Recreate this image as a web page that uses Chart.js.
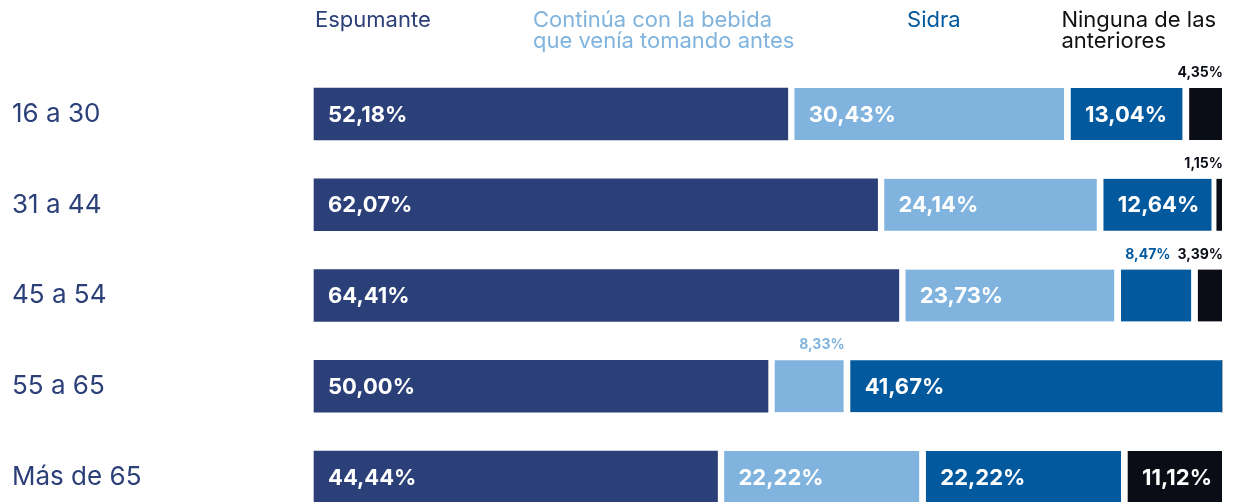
<!DOCTYPE html>
<html>
<head>
<meta charset="utf-8">
<script src="https://cdn.jsdelivr.net/npm/chart.js@4.4.1/dist/chart.umd.min.js"></script>
<style>
  html, body { margin: 0; padding: 0; background: #fff; }
  #wrap { width: 1233px; height: 502px; position: relative; }
</style>
</head>
<body>
<div id="wrap"><canvas id="chart"></canvas></div>
<script>
const categories = ["16 a 30", "31 a 44", "45 a 54", "55 a 65", "Más de 65"];
const seriesNames = [
  ["Espumante"],
  ["Continúa con la bebida", "que venía tomando antes"],
  ["Sidra"],
  ["Ninguna de las", "anteriores"]
];
const espumante = [52.18, 62.07, 64.41, 50.0, 44.44];
const continua = [30.43, 24.14, 23.73, 8.33, 22.22];
const sidra = [13.04, 12.64, 8.47, 41.67, 22.22];
const ninguna = [4.35, 1.15, 3.39, 0, 11.12];

const colors = ["#2b3f78", "#80b4de", "#03599d", "#0a0d16"];
const headerColors = ["#2b3f78", "#80b4de", "#03599d", "#111111"];
const FONT = "Inter, 'Noto Sans', sans-serif";

function fmt(v) {
  return v.toFixed(2).replace(".", ",") + "%";
}

// column headers above the bars
const headerPlugin = {
  id: "headers",
  afterDraw(chart) {
    const ctx = chart.ctx;
    const left = chart.chartArea.left;
    const w = chart.chartArea.right - left;
    const offsets = [0, 0.24, 0.652, 0.822];
    ctx.save();
    ctx.font = "22px " + FONT;
    ctx.textBaseline = "alphabetic";
    ctx.textAlign = "left";
    seriesNames.forEach((lines, i) => {
      ctx.fillStyle = headerColors[i];
      lines.forEach((line, j) => {
        ctx.fillText(line, left + 1 + offsets[i] * w, 27 + j * 21);
      });
    });
    ctx.restore();
  }
};

// percentages inside the bars, small ones above
const valuePlugin = {
  id: "values",
  afterDatasetsDraw(chart) {
    const ctx = chart.ctx;
    ctx.save();
    categories.forEach((cat, idx) => {
      let limit = Infinity;
      for (let d = chart.data.datasets.length - 1; d >= 0; d--) {
        const ds = chart.data.datasets[d];
        const v = ds.data[idx];
        if (!v) continue;
        const bar = chart.getDatasetMeta(d).data[idx];
        const p = bar.getProps(["x", "y", "base", "height"], true);
        const gap = d === 0 ? 0 : 7;
        if (v >= 10) {
          ctx.font = "bold 22px " + FONT;
          ctx.fillStyle = "#ffffff";
          ctx.textAlign = "left";
          ctx.textBaseline = "middle";
          ctx.fillText(fmt(v), p.base + gap + 14, p.y + 1);
        } else {
          ctx.font = "bold 14px " + FONT;
          ctx.fillStyle = colors[d];
          ctx.textAlign = "right";
          ctx.textBaseline = "alphabetic";
          const right = Math.min(p.x + 1, limit);
          ctx.fillText(fmt(v), right, p.y - p.height / 2 - 11);
          limit = right - ctx.measureText(fmt(v)).width - 7;
        }
      }
    });
    ctx.restore();
  }
};

const allSeries = [espumante, continua, sidra, ninguna];

new Chart(document.getElementById("chart"), {
  type: "bar",
  data: {
    labels: categories,
    datasets: allSeries.map((vals, i) => ({
      label: seriesNames[i].join(" "),
      data: vals,
      backgroundColor: colors[i],
      borderColor: "#ffffff",
      borderWidth: i === 0 ? 0 : { left: 7, right: 0, top: 0, bottom: 0 },
      borderSkipped: false,
      barThickness: 52,
      clip: false
    }))
  },
  options: {
    indexAxis: "y",
    responsive: true,
    maintainAspectRatio: false,
    animation: false,
    layout: { padding: { left: 12, right: 11, top: 114, bottom: 25 } },
    plugins: {
      legend: { display: false },
      tooltip: { enabled: false }
    },
    scales: {
      x: {
        stacked: true,
        min: 0,
        max: 100,
        display: false
      },
      y: {
        stacked: true,
        offset: false,
        grid: { display: false },
        border: { display: false },
        afterFit(scale) { scale.width = 302; },
        ticks: {
          crossAlign: "far",
          color: "#2b3f78",
          font: { family: FONT, size: 26, weight: "normal" }
        }
      }
    }
  },
  plugins: [headerPlugin, valuePlugin]
});
</script>
</body>
</html>
